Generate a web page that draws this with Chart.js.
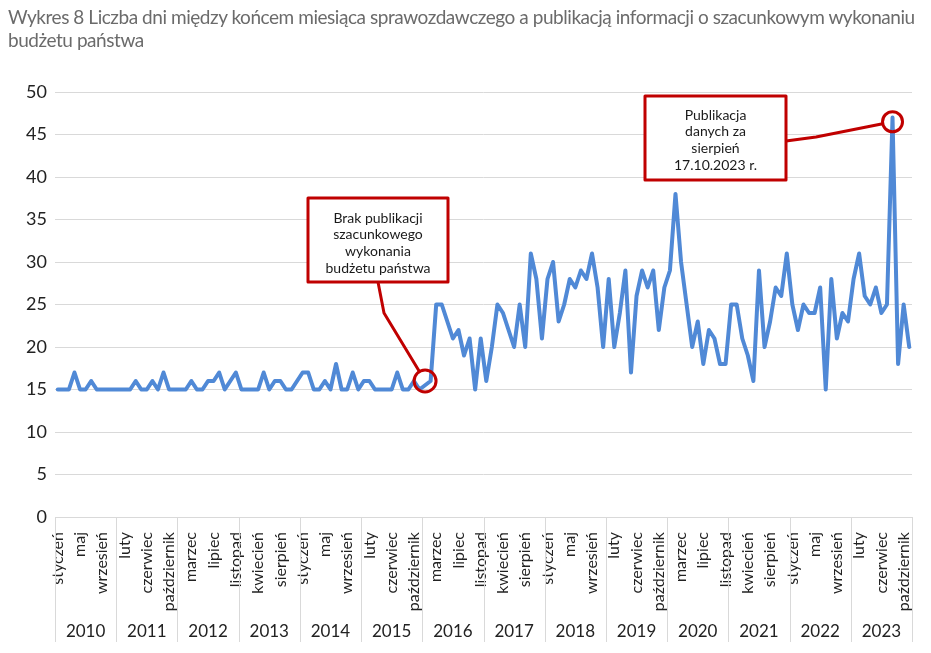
<!DOCTYPE html>
<html><head><meta charset="utf-8">
<script src="https://cdn.jsdelivr.net/npm/chart.js@4"></script>
<style>
html,body{margin:0;padding:0;background:#fff;}
#wrap{position:relative;width:931px;height:653px;overflow:hidden;}
#title{position:absolute;left:8px;top:5px;width:923px;font-family:Lato,sans-serif;font-size:19px;line-height:23px;color:#6b6b6b;letter-spacing:-0.45px;white-space:nowrap;}
canvas{position:absolute;left:0;top:0;}
</style></head><body>
<div id="wrap"><canvas id="c" width="931" height="653"></canvas><div id="title">Wykres 8 Liczba dni między końcem miesiąca sprawozdawczego a publikacją informacji o szacunkowym wykonaniu<br>budżetu państwa</div></div>
<script>
// ---- data ----
const years = ['2010','2011','2012','2013','2014','2015','2016','2017','2018','2019','2020','2021','2022','2023'];
const months = ['styczeń','luty','marzec','kwiecień','maj','czerwiec','lipiec','sierpień','wrzesień','październik','listopad'];
const d2010 = [15,15,15,17,15,15,16,15,15,15,15];
const d2011 = [15,15,15,16,15,15,16,15,17,15,15];
const d2012 = [15,15,16,15,15,16,16,17,15,16,17];
const d2013 = [15,15,15,15,17,15,16,16,15,15,16];
const d2014 = [17,17,15,15,16,15,18,15,15,17,15];
const d2015 = [16,16,15,15,15,15,17,15,15,16,15];
const d2016 = [null,16,25,25,23,21,22,19,21,15,21];
const d2017 = [16,20,25,24,22,20,25,20,31,28,21];
const d2018 = [28,30,23,25,28,27,29,28,31,27,20];
const d2019 = [28,20,24,29,17,26,29,27,29,22,27];
const d2020 = [29,38,30,25,20,23,18,22,21,18,18];
const d2021 = [25,25,21,19,16,29,20,23,27,26,31];
const d2022 = [25,22,25,24,24,27,15,28,21,24,23];
const d2023 = [28,31,26,25,27,24,25,47,18,25,20];
const yTicks = [0,5,10,15,20,25,30,35,40,45,50];
const labelStep = 4;
const note1 = ['Brak publikacji','szacunkowego','wykonania','budżetu państwa'];
const note2 = ['Publikacja','danych za','sierpień','17.10.2023 r.'];
const note1Point = {index: 66, value: 16};
const note2Point = {index: 150, value: 46.5};

const days = [].concat(d2010,d2011,d2012,d2013,d2014,d2015,d2016,d2017,d2018,d2019,d2020,d2021,d2022,d2023);
const labels = [];
years.forEach(y => months.forEach(m => labels.push(m + ' ' + y)));
const perYear = months.length;

const RED = '#C00000';
const GRID = '#d9d9d9';
const FONT = 'Lato, sans-serif';

const extras = {
  id: 'extras',
  afterDraw(chart) {
    const ctx = chart.ctx, xs = chart.scales.x, ys = chart.scales.y, ca = chart.chartArea;
    const step = xs.getPixelForValue(1) - xs.getPixelForValue(0);
    const bound = k => xs.getPixelForValue(k * perYear) - step / 2;
    ctx.save();
    // year separators + labels
    ctx.strokeStyle = GRID; ctx.lineWidth = 1;
    for (let k = 0; k <= years.length; k++) {
      const x = Math.round(bound(k)) + 0.5;
      ctx.beginPath(); ctx.moveTo(x, ca.bottom); ctx.lineTo(x, ca.bottom + 125); ctx.stroke();
    }
    ctx.fillStyle = '#222'; ctx.font = '17px ' + FONT; ctx.textAlign = 'center'; ctx.textBaseline = 'middle';
    years.forEach((y, k) => ctx.fillText(y, (bound(k) + bound(k + 1)) / 2, ca.bottom + 115));

    // annotations
    const c1 = {x: xs.getPixelForValue(note1Point.index), y: ys.getPixelForValue(note1Point.value)};
    const c2 = {x: xs.getPixelForValue(note2Point.index), y: ys.getPixelForValue(note2Point.value)};
    ctx.strokeStyle = RED; ctx.lineWidth = 3; ctx.lineJoin = 'round';
    // connector 1
    ctx.beginPath(); ctx.moveTo(378, 282); ctx.lineTo(384, 313);
    const a1 = Math.atan2(313 - c1.y, 384 - c1.x);
    ctx.lineTo(c1.x + 11 * Math.cos(a1), c1.y + 11 * Math.sin(a1)); ctx.stroke();
    // connector 2
    ctx.beginPath(); ctx.moveTo(786, 141); ctx.lineTo(816, 137);
    const a2 = Math.atan2(137 - c2.y, 816 - c2.x);
    ctx.lineTo(c2.x + 10 * Math.cos(a2), c2.y + 10 * Math.sin(a2)); ctx.stroke();
    // circles
    ctx.beginPath(); ctx.arc(c1.x, c1.y, 11, 0, Math.PI * 2); ctx.stroke();
    ctx.beginPath(); ctx.arc(c2.x, c2.y, 10, 0, Math.PI * 2); ctx.stroke();
    // boxes
    const box = (x, y, w, h, lines, ly) => {
      ctx.fillStyle = '#fff'; ctx.fillRect(x, y, w, h);
      ctx.strokeStyle = RED; ctx.lineWidth = 3; ctx.strokeRect(x, y, w, h);
      ctx.fillStyle = '#1a1a1a'; ctx.font = '14px ' + FONT; ctx.textAlign = 'center'; ctx.textBaseline = 'middle';
      lines.forEach((t, i) => ctx.fillText(t, x + w / 2, ly + i * 16.8));
    };
    box(308, 198, 140, 84, note1, 218);
    box(645, 96, 141, 84, note2, 115);
    ctx.restore();
  }
};

new Chart(document.getElementById('c'), {
  type: 'line',
  data: {
    labels: labels,
    datasets: [{
      data: days,
      borderColor: '#5089D6',
      borderWidth: 4,
      pointRadius: 0,
      tension: 0,
      spanGaps: true,
      borderJoinStyle: 'round',
      borderCapStyle: 'round'
    }]
  },
  options: {
    responsive: false,
    animation: false,
    devicePixelRatio: 1,
    layout: {padding: {top: 92, right: 19, left: 0, bottom: 0}},
    plugins: {legend: {display: false}, title: {display: false}, tooltip: {enabled: false}},
    scales: {
      x: {
        type: 'category',
        offset: true,
        grid: {display: false},
        border: {display: false},
        ticks: {
          autoSkip: false, maxRotation: 90, minRotation: 90, padding: 7,
          color: '#222', font: {family: FONT, size: 16},
          callback: (v, i) => (i % labelStep === 0 ? months[i % perYear] : '')
        },
        afterFit: s => { s.height = 136; s.paddingLeft = 0; s.paddingRight = 0; }
      },
      y: {
        min: 0, max: 50,
        afterBuildTicks: s => { s.ticks = yTicks.map(v => ({value: v})); },
        grid: {color: GRID, drawTicks: false},
        border: {display: false},
        ticks: {padding: 8, color: '#222', font: {family: FONT, size: 18}},
        afterFit: s => { s.width = 55; }
      }
    }
  },
  plugins: [extras]
});
</script>
</body></html>
